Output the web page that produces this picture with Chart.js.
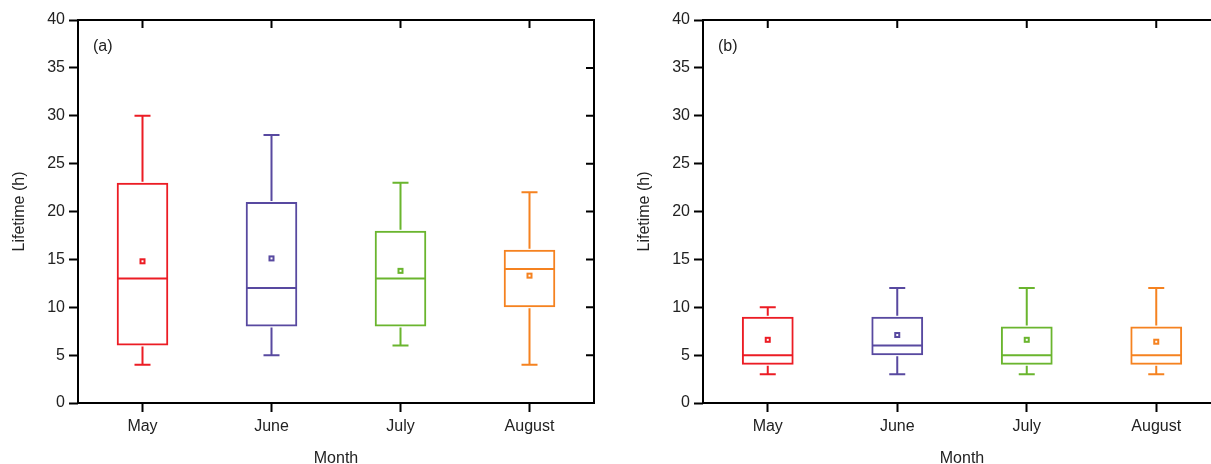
<!DOCTYPE html>
<html>
<head>
<meta charset="utf-8">
<script src="https://cdn.jsdelivr.net/npm/chart.js@4.4.1/dist/chart.umd.min.js"></script>
<style>
html,body{margin:0;padding:0;background:#fff;overflow:hidden;width:1211px;height:464px;position:relative;}
.panel{position:absolute;top:0;height:468px;}
#pa{left:0;width:610px;}
#pb{left:625px;width:612px;}
</style>
</head>
<body>
<div class="panel" id="pa"><canvas id="ca"></canvas></div>
<div class="panel" id="pb"><canvas id="cb"></canvas></div>
<script>
// categorias y colores
const meses = ['May', 'June', 'July', 'August'];
const colores = ['#EC1C24', '#5849A0', '#6AB52E', '#F58220'];

// panel (a)
const minA = [4, 5, 6, 4];
const q1A = [6, 8, 8, 10];
const medA = [13, 12, 13, 14];
const q3A = [23, 21, 18, 16];
const maxA = [30, 28, 23, 22];
const mediaA = [14.8, 15.1, 13.8, 13.3];

// panel (b)
const minB = [3, 3, 3, 3];
const q1B = [4, 5, 4, 4];
const medB = [5, 6, 5, 5];
const q3B = [9, 9, 8, 8];
const maxB = [10, 12, 12, 12];
const mediaB = [6.6, 7.1, 6.6, 6.4];

Chart.defaults.font.family = '"Liberation Sans", Arial, sans-serif';
Chart.defaults.font.size = 16;
Chart.defaults.color = '#222';

// bigotes, mediana y media
const cajas = {
  id: 'cajas',
  afterDatasetsDraw(chart, args, opts) {
    const ctx = chart.ctx;
    const x = chart.scales.x, y = chart.scales.y;
    const meta = chart.getDatasetMeta(0);
    ctx.save();
    ctx.lineWidth = 2;
    meses.forEach((m, i) => {
      const cx = x.getPixelForValue(i);
      const half = meta.data[i].width / 2;
      const yMin = y.getPixelForValue(opts.min[i]);
      const yQ1 = y.getPixelForValue(opts.q1[i]);
      const yMed = y.getPixelForValue(opts.med[i]);
      const yQ3 = y.getPixelForValue(opts.q3[i]);
      const yMax = y.getPixelForValue(opts.max[i]);
      const yMedia = y.getPixelForValue(opts.media[i]);
      ctx.strokeStyle = colores[i];
      ctx.beginPath();
      ctx.moveTo(cx, yQ3 - 1); ctx.lineTo(cx, yMax);
      ctx.moveTo(cx - 8, yMax); ctx.lineTo(cx + 8, yMax);
      ctx.moveTo(cx, yQ1 + 1); ctx.lineTo(cx, yMin);
      ctx.moveTo(cx - 8, yMin); ctx.lineTo(cx + 8, yMin);
      ctx.moveTo(cx - half + 1, yMed); ctx.lineTo(cx + half - 1, yMed);
      ctx.stroke();
      ctx.strokeRect(cx - 2, yMedia - 2, 4, 4);
    });
    ctx.restore();
  }
};

// marco con marcas hacia dentro arriba y a la derecha
const marco = {
  id: 'marco',
  afterDraw(chart, args, opts) {
    const ctx = chart.ctx;
    const {left, right, top, bottom} = chart.chartArea;
    const x = chart.scales.x, y = chart.scales.y;
    ctx.save();
    ctx.strokeStyle = '#000';
    ctx.lineWidth = 2;
    ctx.strokeRect(left, top, right - left, bottom - top);
    ctx.beginPath();
    x.ticks.forEach((t, i) => {
      const px = x.getPixelForTick(i);
      ctx.moveTo(px, top); ctx.lineTo(px, top + 8);
    });
    y.ticks.forEach((t, i) => {
      const py = y.getPixelForTick(i);
      ctx.moveTo(right, py); ctx.lineTo(right - 8, py);
    });
    ctx.stroke();
    ctx.fillStyle = '#222';
    ctx.font = '16px "Liberation Sans", Arial, sans-serif';
    ctx.textBaseline = 'middle';
    ctx.fillText(opts.etiqueta, left + 15, top + 27);
    ctx.restore();
  }
};

function graficarCajas(canvas, etiqueta, mins, q1s, meds, q3s, maxs, medias) {
  return new Chart(canvas, {
    type: 'bar',
    data: {
      labels: meses,
      datasets: [{
        data: q1s.map((v, i) => [v, q3s[i]]),
        backgroundColor: 'rgba(0,0,0,0)',
        borderColor: colores,
        borderWidth: 2,
        borderSkipped: false,
        barPercentage: 0.4,
        categoryPercentage: 1
      }]
    },
    options: {
      responsive: true,
      maintainAspectRatio: false,
      animation: false,
      layout: {padding: {top: 20, right: 16, left: 0, bottom: 0}},
      scales: {
        x: {
          offset: true,
          grid: {display: true, offset: false, drawOnChartArea: false, drawTicks: true, tickLength: 9, tickWidth: 2, tickColor: '#000'},
          border: {display: false},
          ticks: {padding: 5},
          title: {display: true, text: 'Month', padding: {top: 0, bottom: 0}},
          afterFit(scale) { scale.height = 65; }
        },
        y: {
          min: 0, max: 40,
          grid: {display: true, drawOnChartArea: false, drawTicks: true, tickLength: 9, tickWidth: 2, tickColor: '#000'},
          border: {display: false},
          ticks: {stepSize: 5, padding: 4},
          title: {display: true, text: 'Lifetime (h)', padding: {top: 10, bottom: 0}},
          afterFit(scale) { scale.width = 78; }
        }
      },
      plugins: {
        legend: {display: false},
        tooltip: {enabled: false},
        cajas: {min: mins, q1: q1s, med: meds, q3: q3s, max: maxs, media: medias},
        marco: {etiqueta: etiqueta}
      }
    },
    plugins: [cajas, marco]
  });
}

graficarCajas(document.getElementById('ca'), '(a)', minA, q1A, medA, q3A, maxA, mediaA);
graficarCajas(document.getElementById('cb'), '(b)', minB, q1B, medB, q3B, maxB, mediaB);
</script>
</body>
</html>
